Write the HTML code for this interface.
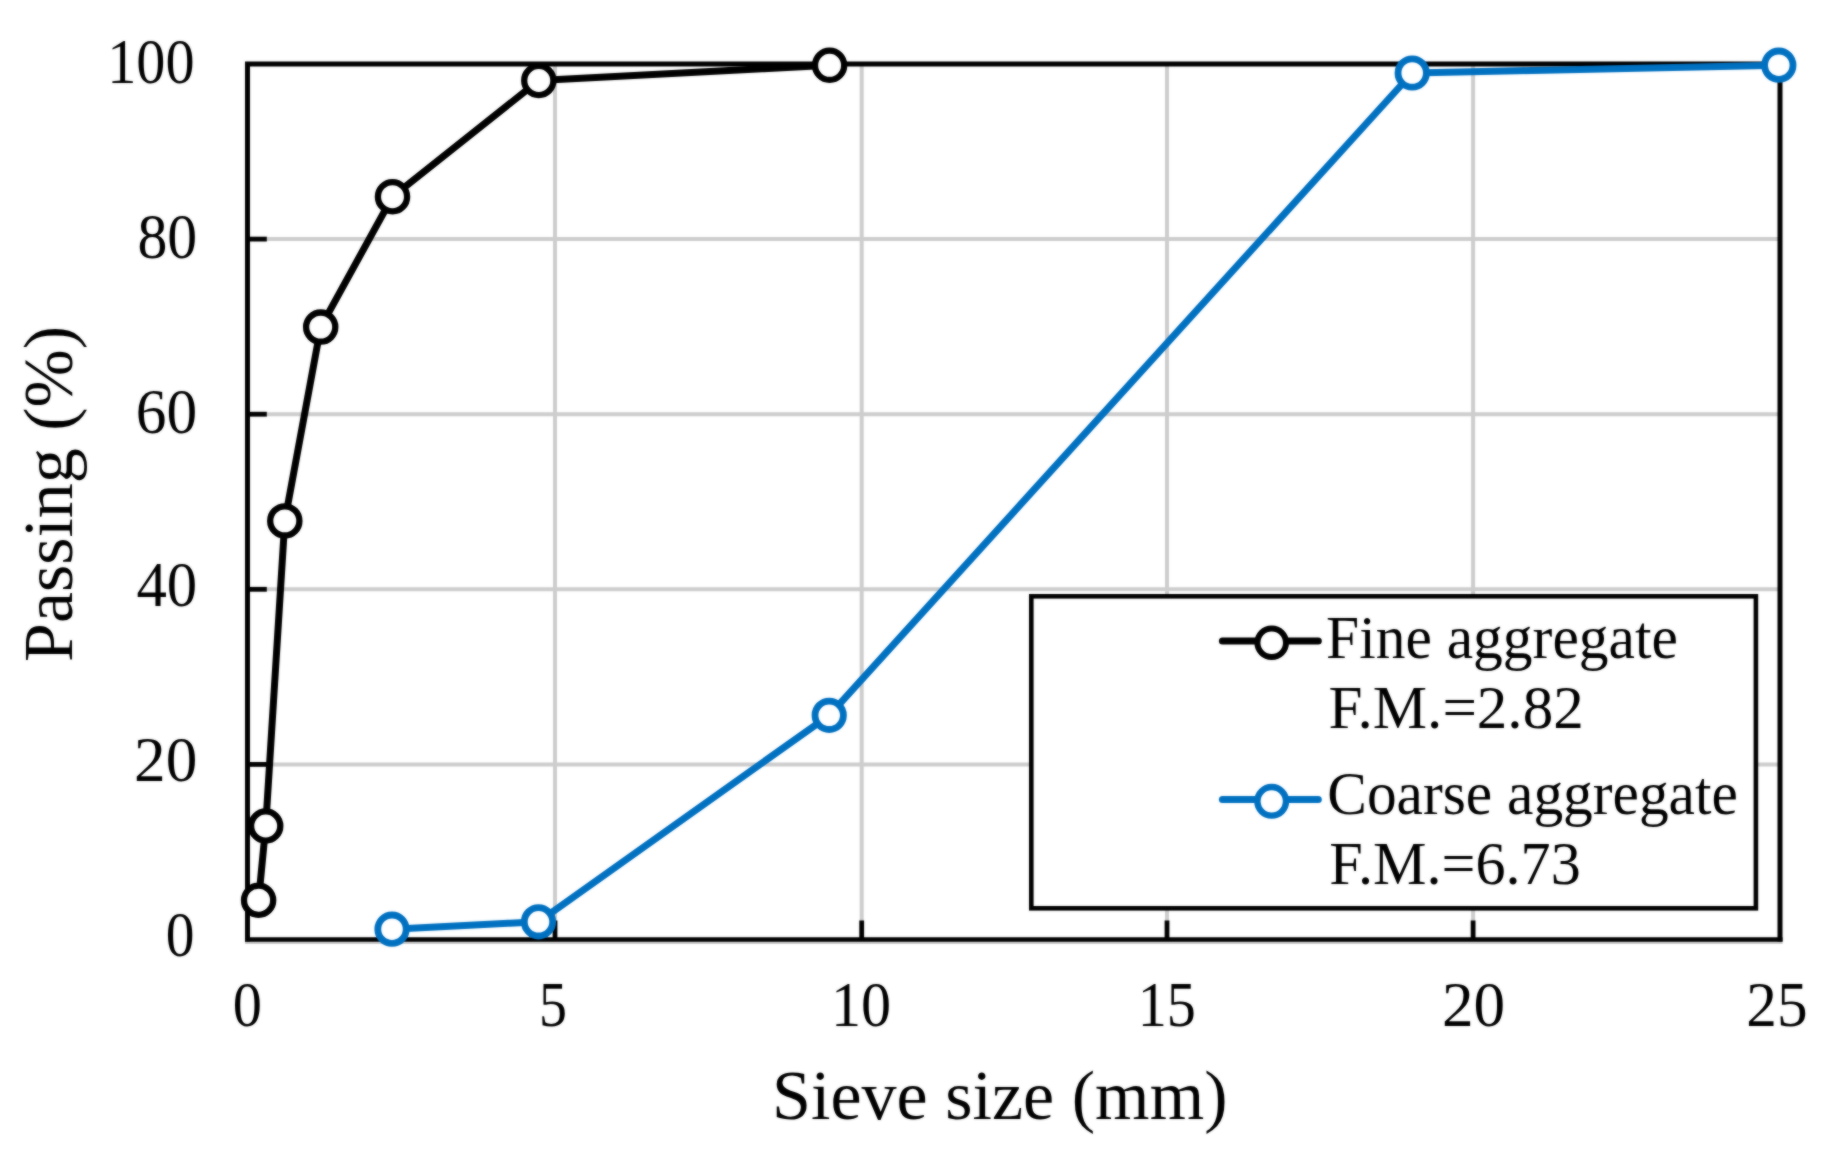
<!DOCTYPE html>
<html lang="en"><head><meta charset="utf-8"><title>Sieve analysis</title>
<style>html,body{margin:0;padding:0;background:#fff;}svg{display:block;}text{font-family:"Liberation Serif",serif;fill:#000;}</style></head><body>
<svg width="1836" height="1157" viewBox="0 0 1836 1157">
<defs><filter id="soft" x="0" y="0" width="1836" height="1157" filterUnits="userSpaceOnUse" color-interpolation-filters="sRGB"><feGaussianBlur in="SourceGraphic" stdDeviation="1" result="b"/><feComposite in="b" in2="SourceGraphic" operator="arithmetic" k1="0" k2="0.55" k3="0.45" k4="0"/></filter></defs>
<g filter="url(#soft)">
<rect width="1836" height="1157" fill="#fff"/>
<g stroke="#CDCDCD" stroke-width="4" fill="none">
<line x1="247.5" x2="1780.0" y1="764.4" y2="764.4"/>
<line x1="247.5" x2="1780.0" y1="589.3" y2="589.3"/>
<line x1="247.5" x2="1780.0" y1="414.2" y2="414.2"/>
<line x1="247.5" x2="1780.0" y1="239.1" y2="239.1"/>
<line y1="939.5" y2="64.0" x1="555.0" x2="555.0"/>
<line y1="939.5" y2="64.0" x1="861.7" x2="861.7"/>
<line y1="939.5" y2="64.0" x1="1167.0" x2="1167.0"/>
<line y1="939.5" y2="64.0" x1="1473.1" x2="1473.1"/>
<line x1="245.0" x2="1782.5" y1="942.0" y2="942.0"/>
</g>
<g stroke="#000" stroke-width="4.8" fill="none">
<line x1="247.5" x2="266.8" y1="764.4" y2="764.4"/>
<line x1="247.5" x2="266.8" y1="589.3" y2="589.3"/>
<line x1="247.5" x2="266.8" y1="414.2" y2="414.2"/>
<line x1="247.5" x2="266.8" y1="239.1" y2="239.1"/>
<line y1="939.5" y2="920.5" x1="555.0" x2="555.0"/>
<line y1="939.5" y2="920.5" x1="861.7" x2="861.7"/>
<line y1="939.5" y2="920.5" x1="1167.0" x2="1167.0"/>
<line y1="939.5" y2="920.5" x1="1473.1" x2="1473.1"/>
</g>
<path d="M247.5,941.6 L247.5,64.0 L1780.0,64.0 L1780.0,941.6" fill="none" stroke="#000" stroke-width="5" stroke-linejoin="miter"/>
<line x1="245.0" x2="1782.5" y1="939.5" y2="939.5" stroke="#000" stroke-width="4.6"/>
<rect x="1031.3" y="596.3" width="724.6" height="312" fill="#fff" stroke="#000" stroke-width="4.6"/>
<polyline points="392,929.2 538.5,921.8 829.2,715.3 1412.2,73 1778.8,65.2" fill="none" stroke="#0070C0" stroke-width="7" stroke-linejoin="round"/>
<circle cx="392" cy="929.2" r="14.2" fill="#fff" stroke="#0070C0" stroke-width="6.8"/>
<circle cx="538.5" cy="921.8" r="14.2" fill="#fff" stroke="#0070C0" stroke-width="6.8"/>
<circle cx="829.2" cy="715.3" r="14.2" fill="#fff" stroke="#0070C0" stroke-width="6.8"/>
<circle cx="1412.2" cy="73" r="14.2" fill="#fff" stroke="#0070C0" stroke-width="6.8"/>
<circle cx="1778.8" cy="65.2" r="14.2" fill="#fff" stroke="#0070C0" stroke-width="6.8"/>
<polyline points="258.6,900.2 265.7,826 284.8,520.9 320.7,327.1 392.5,196.7 538.8,80.5 829.6,65.3" fill="none" stroke="#000" stroke-width="7" stroke-linejoin="round"/>
<circle cx="258.6" cy="900.2" r="14.6" fill="#fff" stroke="#000" stroke-width="6.3"/>
<circle cx="265.7" cy="826" r="14.6" fill="#fff" stroke="#000" stroke-width="6.3"/>
<circle cx="284.8" cy="520.9" r="14.6" fill="#fff" stroke="#000" stroke-width="6.3"/>
<circle cx="320.7" cy="327.1" r="14.6" fill="#fff" stroke="#000" stroke-width="6.3"/>
<circle cx="392.5" cy="196.7" r="14.6" fill="#fff" stroke="#000" stroke-width="6.3"/>
<circle cx="538.8" cy="80.5" r="14.6" fill="#fff" stroke="#000" stroke-width="6.3"/>
<circle cx="829.6" cy="65.3" r="14.6" fill="#fff" stroke="#000" stroke-width="6.3"/>
<line x1="1222.5" x2="1318.2" y1="641.0" y2="641.0" stroke="#000" stroke-width="7.2" stroke-linecap="round"/>
<circle cx="1271.7" cy="642.8" r="14.3" fill="#fff" stroke="#000" stroke-width="6.0"/>
<line x1="1222.5" x2="1318.2" y1="799.5" y2="799.5" stroke="#0070C0" stroke-width="7.2" stroke-linecap="round"/>
<circle cx="1271.7" cy="801.3" r="14.3" fill="#fff" stroke="#0070C0" stroke-width="6.4"/>
<text transform="translate(1326.11,657.80) scale(0.9832,1)" font-size="60.5">Fine aggregate</text>
<text transform="translate(1328.48,728.40) scale(1.0096,1)" font-size="60.5">F.M.=2.82</text>
<text transform="translate(1327.32,814.40) scale(0.9817,1)" font-size="60.5">Coarse aggregate</text>
<text transform="translate(1329.30,884.00) scale(0.9947,1)" font-size="60.5">F.M.=6.73</text>
<text transform="translate(107.14,83.30) scale(0.9250,1)" font-size="63">100</text>
<text transform="translate(137.41,258.10) scale(0.9490,1)" font-size="63">80</text>
<text transform="translate(135.84,432.60) scale(0.9746,1)" font-size="63">60</text>
<text transform="translate(136.39,606.30) scale(0.9656,1)" font-size="63">40</text>
<text transform="translate(134.07,780.80) scale(1.0036,1)" font-size="63">20</text>
<text transform="translate(165.78,956.10) scale(0.9127,1)" font-size="63">0</text>
<text transform="translate(232.65,1025.50) scale(0.9271,1)" font-size="63">0</text>
<text transform="translate(539.10,1025.50) scale(0.8881,1)" font-size="63">5</text>
<text transform="translate(830.98,1025.50) scale(0.9559,1)" font-size="63">10</text>
<text transform="translate(1137.64,1025.50) scale(0.9238,1)" font-size="63">15</text>
<text transform="translate(1441.97,1025.50) scale(1.0036,1)" font-size="63">20</text>
<text transform="translate(1746.35,1025.50) scale(0.9729,1)" font-size="63">25</text>
<text transform="translate(771.99,1118.60) scale(1.0087,1)" font-size="69.5">Sieve size (mm)</text>
<text transform="translate(71.70,662.00) rotate(-90) scale(1.0064,1)" font-size="69.5">Passing (%)</text>
</g></svg></body></html>
